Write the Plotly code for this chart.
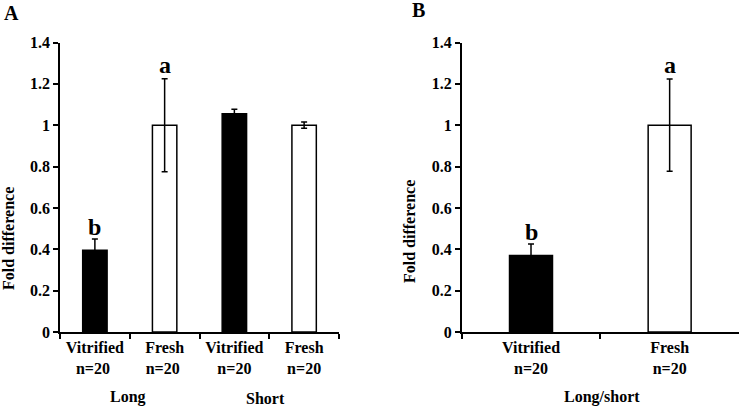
import plotly.graph_objects as go

# Panel A data
cats_a = ["Vitrified<br>n=20 ", "Fresh<br>n=20 ", "Vitrified<br>n=20", "Fresh<br>n=20"]
vals_a = [0.395, 1.0, 1.055, 1.0]
errs_a = [0.055, 0.225, 0.022, 0.015]
colors_a = ["black", "white", "black", "white"]
letters_a = ["b", "a", "", ""]
groups_a = ["Long", "Short"]

# Panel B data
cats_b = ["Vitrified<br>n=20", "Fresh<br>n=20"]
vals_b = [0.37, 1.0]
errs_b = [0.055, 0.223]
colors_b = ["black", "white"]
letters_b = ["b", "a"]
group_b = "Long/short"

FONT = "Liberation Serif"

fig = go.Figure()
fig.add_trace(go.Bar(
    x=cats_a, y=vals_a, width=0.35,
    marker=dict(color=colors_a, line=dict(color="black", width=1.5)),
    error_y=dict(type="data", array=errs_a, visible=True, color="black", thickness=1.5, width=3),
    xaxis="x", yaxis="y", showlegend=False))
fig.add_trace(go.Bar(
    x=cats_b, y=vals_b, width=0.31,
    marker=dict(color=colors_b, line=dict(color="black", width=1.5)),
    error_y=dict(type="data", array=errs_b, visible=True, color="black", thickness=1.5, width=3),
    xaxis="x2", yaxis="y2", showlegend=False))

ydom = [0.1823, 0.8953]
tickfont = dict(family=FONT, size=16, color="black", weight="bold")
common_x = dict(type="category", tickson="boundaries", ticks="outside", ticklen=5, tickwidth=1.5,
                tickcolor="black", showline=True, linecolor="black", linewidth=1.5,
                showgrid=False, zeroline=False, tickfont=tickfont, fixedrange=True, automargin=False)
common_y = dict(range=[0, 1.4], dtick=0.2, tick0=0, ticks="outside", ticklen=5, tickwidth=1.5,
                tickcolor="black", showline=True, linecolor="black", linewidth=1.5,
                showgrid=False, zeroline=False, tickfont=tickfont, fixedrange=True, automargin=False)

fig.update_layout(
    template="none",
    width=740, height=406,
    margin=dict(l=0, r=0, t=0, b=0, pad=0),
    paper_bgcolor="white", plot_bgcolor="white",
    font=dict(family=FONT, color="black"),
    xaxis=dict(domain=[0.0811, 0.4581], anchor="y", range=[-0.5, 3.5], **common_x),
    yaxis=dict(domain=ydom, anchor="x", **common_y),
    xaxis2=dict(domain=[0.6239, 0.9986], anchor="y2", range=[-0.5, 1.5], **common_x),
    yaxis2=dict(domain=ydom, anchor="x2", **common_y),
)

ann = []
letfont = dict(family=FONT, size=24, color="black", weight="bold")
for xr, yr, cats, vals, errs, lets in (("x", "y", cats_a, vals_a, errs_a, letters_a),
                                       ("x2", "y2", cats_b, vals_b, errs_b, letters_b)):
    for c, v, e, l in zip(cats, vals, errs, lets):
        if l:
            ann.append(dict(x=c, y=v + e, xref=xr, yref=yr, text=l, showarrow=False,
                            yanchor="bottom", yshift=(-3 if l == "b" else -1), font=letfont))

lblfont = dict(family=FONT, size=16, color="black", weight="bold")
# group labels
ann.append(dict(x=0.5, y=0, xref="x", yref="paper", yanchor="middle", text=groups_a[0],
                showarrow=False, font=lblfont, yshift=9, xshift=-2))
ann.append(dict(x=2.5, y=0, xref="x", yref="paper", yanchor="middle", text=groups_a[1],
                showarrow=False, font=lblfont, yshift=8, xshift=-4))
ann.append(dict(x=0.5, y=0, xref="x2", yref="paper", yanchor="middle", text=group_b,
                showarrow=False, font=lblfont, yshift=9, xshift=2))
# axis titles
titfont = dict(family=FONT, size=16, color="black", weight="bold")
ann.append(dict(x=8 / 740, y=1 - 239 / 406, xref="paper", yref="paper", text="Fold difference",
                textangle=-90, showarrow=False, font=titfont, xanchor="center", yanchor="middle"))
ann.append(dict(x=409 / 740, y=1 - 232 / 406, xref="paper", yref="paper", text="Fold difference",
                textangle=-90, showarrow=False, font=titfont, xanchor="center", yanchor="middle"))
# panel labels
panfont = dict(family=FONT, size=20, color="black", weight="bold")
ann.append(dict(x=11 / 740, y=1 - 13 / 406, xref="paper", yref="paper", text="A",
                showarrow=False, font=panfont, xanchor="center", yanchor="middle"))
ann.append(dict(x=418 / 740, y=1 - 10 / 406, xref="paper", yref="paper", text="B",
                showarrow=False, font=panfont, xanchor="center", yanchor="middle"))
fig.update_layout(annotations=ann)

fig.write_html("out.html", config={"displayModeBar": False},
               post_script="document.body.style.margin='0';document.body.style.overflow='hidden';")
